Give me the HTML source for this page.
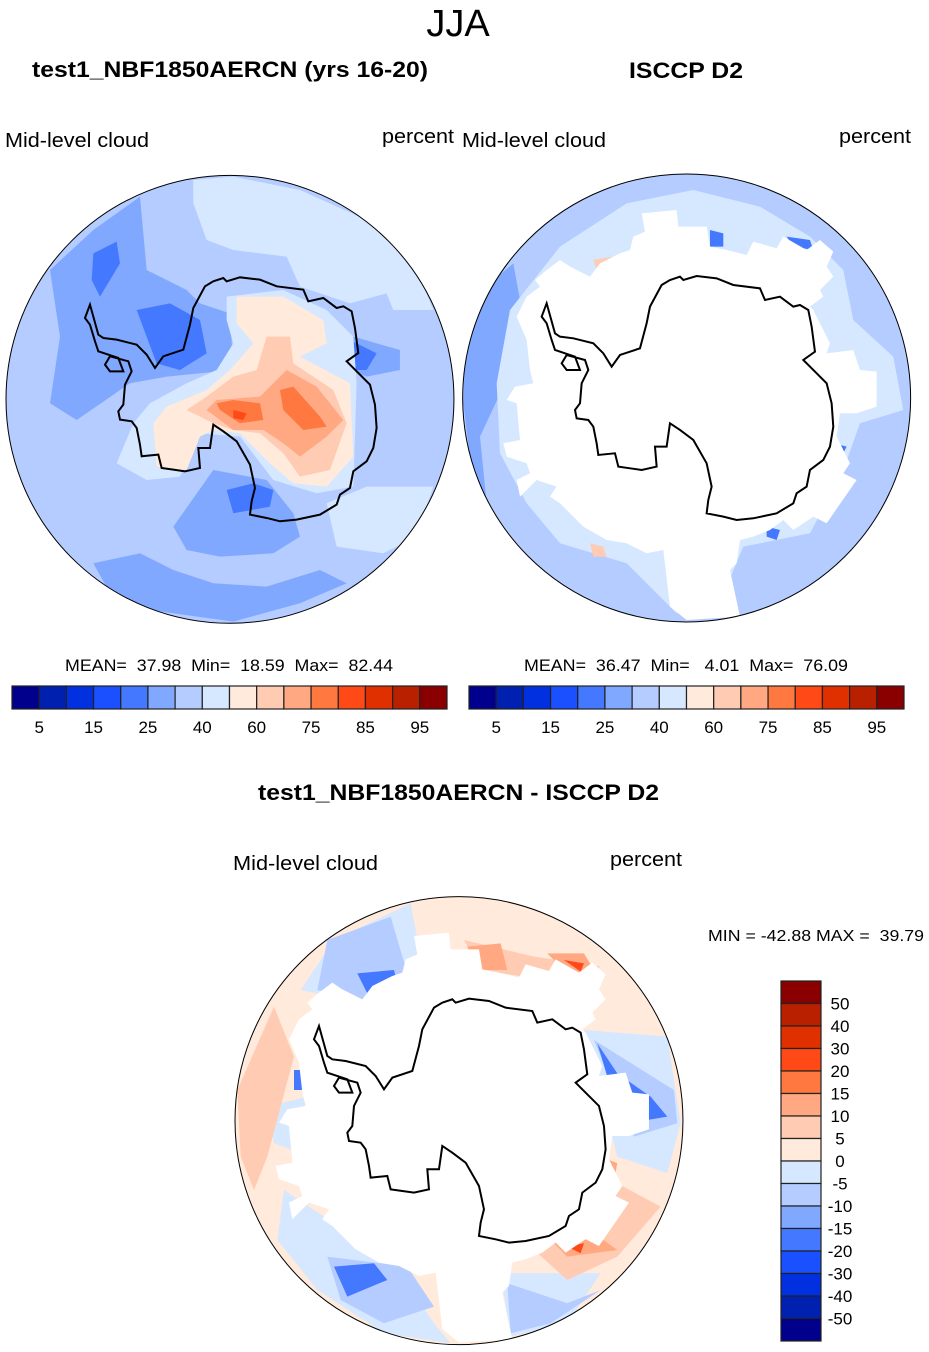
<!DOCTYPE html>
<html><head><meta charset="utf-8"><style>
body{margin:0;background:#fff;}
svg{display:block;font-family:"Liberation Sans",sans-serif;}
</style></head><body>
<svg id="s" width="929" height="1352" viewBox="0 0 929 1352">
<text x="458" y="36" font-size="38" text-anchor="middle">JJA</text>
<text x="32" y="77" font-size="22" font-weight="bold" textLength="396" lengthAdjust="spacingAndGlyphs">test1_NBF1850AERCN (yrs 16-20)</text>
<text x="629" y="78" font-size="22" font-weight="bold" textLength="114" lengthAdjust="spacingAndGlyphs">ISCCP D2</text>
<text x="5" y="147" font-size="20" textLength="144" lengthAdjust="spacingAndGlyphs">Mid-level cloud</text>
<text x="382" y="143" font-size="20" textLength="72" lengthAdjust="spacingAndGlyphs">percent</text>
<text x="462" y="147" font-size="20" textLength="144" lengthAdjust="spacingAndGlyphs">Mid-level cloud</text>
<text x="839" y="143" font-size="20" textLength="72" lengthAdjust="spacingAndGlyphs">percent</text>
<text x="65" y="671" font-size="17" textLength="328" lengthAdjust="spacingAndGlyphs" xml:space="preserve">MEAN=  37.98  Min=  18.59  Max=  82.44</text>
<text x="524" y="671" font-size="17" textLength="324" lengthAdjust="spacingAndGlyphs" xml:space="preserve">MEAN=  36.47  Min=   4.01  Max=  76.09</text>
<text x="258" y="800" font-size="22" font-weight="bold" textLength="401" lengthAdjust="spacingAndGlyphs">test1_NBF1850AERCN - ISCCP D2</text>
<text x="233" y="870" font-size="20" textLength="145" lengthAdjust="spacingAndGlyphs">Mid-level cloud</text>
<text x="610" y="866" font-size="20" textLength="72" lengthAdjust="spacingAndGlyphs">percent</text>
<text x="708" y="941" font-size="16" textLength="216" lengthAdjust="spacingAndGlyphs" xml:space="preserve">MIN = -42.88 MAX =  39.79</text>
<g id="maps"></g>
<g id="bars"></g>
</svg>
<script>
const NS="http://www.w3.org/2000/svg";
const colors=["#00008c","#0020b0","#0030e0","#1a50ff","#4478ff","#80a8ff","#b4ccff","#d6e8ff","#ffeadb","#ffcbb3","#ffa882","#ff7840","#ff4a18","#e03000","#b82000","#8a0000"];
const absLabels=["5","15","25","40","60","75","85","95"];
const diffLabels=["50","40","30","20","15","10","5","0","-5","-10","-15","-20","-30","-40","-50"];
const svg=document.getElementById('s');
function mk(t,a,p){const e=document.createElementNS(NS,t);for(const k in a)e.setAttribute(k,a[k]);(p||svg).appendChild(e);return e;}
const C=colors;
const coast="M605,345 L630,330 660,320 670,330 710,318 770,325 820,345 900,355 915,390 960,380 1000,410 1020,405 1045,420 1055,470 1065,545 1030,570 1060,600 1100,640 1115,700 1120,770 1110,830 1090,870 1050,900 1040,950 1010,970 1000,1000 950,1030 880,1045 830,1050 790,1040 740,1030 745,990 755,950 740,880 700,810 660,780 630,760 620,830 585,830 590,890 545,900 510,895 475,890 465,850 415,855 410,820 400,770 385,750 350,745 345,720 360,700 365,640 385,600 375,570 320,555 305,580 320,600 360,600 345,560 285,540 275,510 260,460 245,440 260,400 285,490 300,500 340,505 400,520 430,550 455,590 480,555 540,535 560,460 570,410 Z";
const mask="545,130 650,120 655,170 740,170 750,230 800,240 860,255 880,215 950,235 970,200 1040,240 1080,210 1120,245 1100,290 1120,320 1080,360 1090,380 1050,410 1060,420 1110,520 1100,550 1180,540 1200,600 1250,605 1250,710 1190,730 1140,730 1130,800 1170,880 1150,910 1190,930 1100,1060 1060,1040 1000,1080 970,1050 930,1080 880,1100 840,1110 830,1180 810,1200 840,1340 680,1350 630,1310 610,1140 560,1150 500,1120 440,1110 370,1070 300,1000 270,980 290,950 230,930 180,980 170,930 210,910 200,880 140,860 130,820 180,810 170,700 140,690 165,650 220,640 210,600 200,510 170,440 200,380 240,350 225,330 260,300 300,270 330,290 390,320 420,280 480,250 510,240 520,200 555,185";
const leftPolys=[
[7,"580,30 700,20 900,60 1100,150 1250,300 1300,420 1180,420 1160,370 1050,400 900,350 860,260 700,240 620,210 580,100"],
[7,"980,1000 1100,950 1300,950 1250,1100 1150,1150 1010,1130"],
[5,"150,300 280,180 420,80 440,300 560,360 600,400 690,430 700,600 500,620 390,640 230,750 150,700 180,500"],
[5,"520,1070 640,900 800,930 880,1030 900,1100 820,1150 660,1160 560,1140"],
[5,"280,1180 420,1150 520,1200 640,1240 800,1250 960,1200 1040,1240 900,1300 700,1355 450,1320 330,1270"],
[5,"1060,500 1200,540 1200,600 1100,620 1050,600"],
[4,"280,250 350,215 360,280 300,380 275,330"],
[4,"410,420 510,400 600,450 620,550 540,600 470,580"],
[4,"920,540 1050,510 1130,550 1100,600 960,600"],
[3,"980,550 1050,540 1060,570 990,570"],
[4,"680,960 760,940 820,960 810,1010 700,1030"],
[7,"680,380 850,360 980,420 1060,500 1070,640 1060,950 950,970 820,930 720,800 600,790 540,920 440,930 350,880 400,760 450,700 560,640 650,600 700,520 680,450"],
[8,"710,380 850,380 970,450 980,520 900,560 1050,640 1060,860 980,950 880,940 810,880 720,790 640,780 600,800 560,900 470,890 460,760 500,710 620,660 690,600 760,520 710,460"],
[9,"800,500 870,500 880,580 1000,660 1040,760 990,900 900,920 850,850 780,790 700,780 640,760 560,720 620,680 700,620 770,600"],
[10,"650,690 780,680 860,600 950,650 1030,750 980,800 940,830 900,860 850,820 790,780 700,780 620,720"],
[11,"650,700 700,690 780,700 790,750 720,760 660,720"],
[11,"840,660 880,650 960,740 980,770 910,780 850,720"],
[12,"700,720 740,730 730,750 700,745"]];
const rightPolys=[
[5,"20,400 160,280 200,500 60,800 80,1000 40,950 10,700"],
[7,"500,100 700,60 900,110 1050,200 1150,300 1180,450 1300,560 1330,720 1200,760 1150,900 1050,1090 850,1130 800,1250 650,1330 500,1180 300,1120 200,1000 120,850 110,640 150,420 300,230"],
[4,"980,200 1050,210 1060,240 1000,230"],[4,"750,180 790,190 790,230 750,230"],
[4,"1120,820 1160,830 1150,850 1115,845"],[9,"400,270 460,260 440,300 410,300"],
[9,"390,1120 430,1130 440,1160 400,1160"],[4,"920,1070 960,1080 950,1110 920,1100"]];
const diffPolys=[
[7,"300,150 530,40 560,200 350,330 200,300"],
[7,"150,900 300,1000 500,1150 600,1300 650,1360 450,1330 250,1200 130,1050"],
[7,"1050,420 1300,440 1340,700 1300,850 1150,800"],
[7,"800,1150 1100,1150 1000,1300 830,1340"],
[7,"100,650 220,620 230,800 120,760"],
[6,"280,150 470,80 520,250 380,330 250,300"],
[6,"1080,450 1320,600 1330,700 1200,740"],
[6,"280,1100 520,1130 600,1250 450,1300 320,1230"],
[6,"820,1180 1000,1240 1100,1200 950,1300 830,1330"],
[4,"370,250 480,240 490,280 400,310"],
[4,"1090,460 1150,550 1250,620 1300,680 1240,690 1180,600 1120,560"],
[4,"300,1130 420,1120 460,1170 340,1220"],
[4,"180,540 230,540 220,600 180,600"],
[9,"10,600 120,350 180,500 100,800 60,900 20,800"],
[9,"900,1080 1150,880 1280,950 1150,1100 1000,1170"],
[9,"690,150 900,200 1100,230 1000,280 740,240"],
[10,"700,170 800,160 820,240 730,240"],[10,"940,190 1050,190 1080,240 1000,250"],
[10,"960,1060 1080,1030 1150,1080 1000,1100"],[10,"1100,800 1150,820 1140,870 1100,860"],
[12,"990,210 1050,220 1040,245"],[12,"1000,1070 1050,1060 1040,1090"]];
const maps=[
{name:"left-map",ox:0,oy:170,cx:690,cy:688,base:C[6],polys:leftPolys,mask:false},
{name:"right-map",ox:460,oy:170,cx:680,cy:684,base:C[6],polys:rightPolys,mask:true},
{name:"diff-map",ox:234,oy:890,cx:675,cy:692,base:C[8],polys:diffPolys,mask:true}];
const defs=mk('defs',{});
maps.forEach((m,i)=>{
  const cp=mk('clipPath',{id:'cp'+i},defs);
  mk('circle',{cx:m.cx,cy:m.cy,r:672},cp);
  const g=mk('g',{transform:`translate(${m.ox},${m.oy}) scale(0.3333)`},document.getElementById('maps'));
  
  
  const inner=mk('g',{'clip-path':`url(#cp${i})`},g);
  mk('circle',{cx:m.cx,cy:m.cy,r:672,fill:m.base},inner);
  m.polys.forEach(p=>{const e=mk('polygon',{points:p[1],fill:C[p[0]]},inner);
    
    });
  const dx=m.cx-680, dy=m.cy-684;
  if(m.mask){const e=mk('polygon',{points:mask,fill:'#fff',transform:`translate(${dx},${dy})`},inner);
    
    }
  const c=mk('path',{d:coast,fill:'none',stroke:'#000','stroke-width':6,transform:`translate(${dx},${dy})`},inner);
  
  
  const b=mk('circle',{cx:m.cx,cy:m.cy,r:672,fill:'none',stroke:'#000','stroke-width':3},g);
  
  
});
const bars=document.getElementById('bars');
[[12,'left-colorbar'],[469,'right-colorbar']].forEach(([x0,nm])=>{
  const g=mk('g',{},bars);
  
  
  const w=435/colors.length;
  colors.forEach((c,i)=>{const r=mk('rect',{x:x0+i*w,y:686,width:w,height:23,fill:c,stroke:'#222','stroke-width':1.2},g);
    
    });
  absLabels.forEach((l,i)=>{const t=mk('text',{x:x0+(1+2*i)*w,y:733,'font-size':17,'text-anchor':'middle'},g);t.textContent=l;
    
    });
});
const vg=mk('g',{},bars);


const h=360/colors.length;
colors.slice().reverse().forEach((c,i)=>{const r=mk('rect',{x:781,y:981+i*h,width:40,height:h,fill:c,stroke:'#222','stroke-width':1.2},vg);
  
  });
diffLabels.forEach((l,i)=>{const t=mk('text',{x:840,y:981+(i+1)*h+6,'font-size':17,'text-anchor':'middle'},vg);t.textContent=l;
  
  });
</script>
</body></html>
